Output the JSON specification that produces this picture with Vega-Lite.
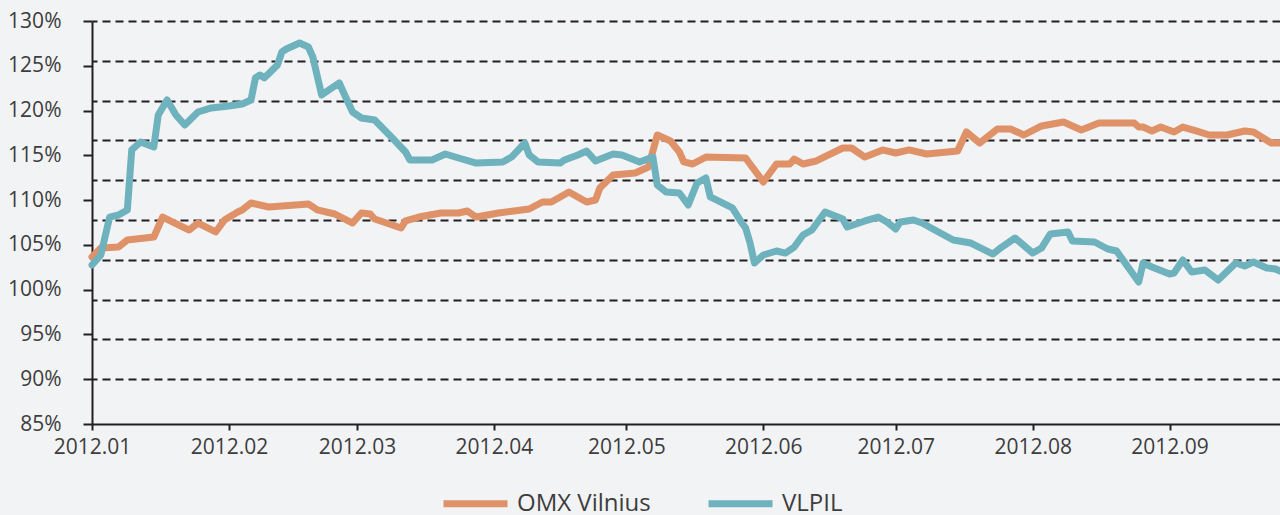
{
  "$schema": "https://vega.github.io/schema/vega-lite/v6.json",
  "width": 1188,
  "height": 403,
  "autosize": {"type": "none"},
  "padding": {"left": 92, "top": 21, "right": 0, "bottom": 91},
  "background": "#f2f3f5",
  "config": {
    "view": {"stroke": null},
    "font": "Open Sans",
    "axis": {"labelFont": "Open Sans", "labelColor": "#3d3d3d", "domainColor": "#231f20", "tickColor": "#231f20"}
  },
  "datasets": {
    "series": [
      {"date": "2012-01-01", "series": "OMX Vilnius", "value": 103.65},
      {"date": "2012-01-03", "series": "OMX Vilnius", "value": 104.65},
      {"date": "2012-01-07", "series": "OMX Vilnius", "value": 104.76},
      {"date": "2012-01-09", "series": "OMX Vilnius", "value": 105.55},
      {"date": "2012-01-15", "series": "OMX Vilnius", "value": 105.88},
      {"date": "2012-01-17", "series": "OMX Vilnius", "value": 108.11},
      {"date": "2012-01-23", "series": "OMX Vilnius", "value": 106.66},
      {"date": "2012-01-25", "series": "OMX Vilnius", "value": 107.44},
      {"date": "2012-01-29", "series": "OMX Vilnius", "value": 106.44},
      {"date": "2012-01-31", "series": "OMX Vilnius", "value": 107.78},
      {"date": "2012-02-03", "series": "OMX Vilnius", "value": 108.67},
      {"date": "2012-02-04", "series": "OMX Vilnius", "value": 108.90},
      {"date": "2012-02-06", "series": "OMX Vilnius", "value": 109.68},
      {"date": "2012-02-10", "series": "OMX Vilnius", "value": 109.23},
      {"date": "2012-02-19", "series": "OMX Vilnius", "value": 109.57},
      {"date": "2012-02-21", "series": "OMX Vilnius", "value": 108.90},
      {"date": "2012-02-25", "series": "OMX Vilnius", "value": 108.45},
      {"date": "2012-02-29", "series": "OMX Vilnius", "value": 107.44},
      {"date": "2012-03-02", "series": "OMX Vilnius", "value": 108.56},
      {"date": "2012-03-04", "series": "OMX Vilnius", "value": 108.45},
      {"date": "2012-03-05", "series": "OMX Vilnius", "value": 107.89},
      {"date": "2012-03-07", "series": "OMX Vilnius", "value": 107.56},
      {"date": "2012-03-11", "series": "OMX Vilnius", "value": 106.89},
      {"date": "2012-03-12", "series": "OMX Vilnius", "value": 107.67},
      {"date": "2012-03-15", "series": "OMX Vilnius", "value": 108.11},
      {"date": "2012-03-20", "series": "OMX Vilnius", "value": 108.56},
      {"date": "2012-03-24", "series": "OMX Vilnius", "value": 108.56},
      {"date": "2012-03-26", "series": "OMX Vilnius", "value": 108.78},
      {"date": "2012-03-28", "series": "OMX Vilnius", "value": 108.11},
      {"date": "2012-04-02", "series": "OMX Vilnius", "value": 108.56},
      {"date": "2012-04-09", "series": "OMX Vilnius", "value": 109.01},
      {"date": "2012-04-12", "series": "OMX Vilnius", "value": 109.79},
      {"date": "2012-04-14", "series": "OMX Vilnius", "value": 109.79},
      {"date": "2012-04-18", "series": "OMX Vilnius", "value": 110.91},
      {"date": "2012-04-22", "series": "OMX Vilnius", "value": 109.79},
      {"date": "2012-04-24", "series": "OMX Vilnius", "value": 110.01},
      {"date": "2012-04-25", "series": "OMX Vilnius", "value": 111.35},
      {"date": "2012-04-28", "series": "OMX Vilnius", "value": 112.80},
      {"date": "2012-05-03", "series": "OMX Vilnius", "value": 113.03},
      {"date": "2012-05-06", "series": "OMX Vilnius", "value": 113.70},
      {"date": "2012-05-08", "series": "OMX Vilnius", "value": 117.27},
      {"date": "2012-05-11", "series": "OMX Vilnius", "value": 116.60},
      {"date": "2012-05-13", "series": "OMX Vilnius", "value": 115.37},
      {"date": "2012-05-14", "series": "OMX Vilnius", "value": 114.26},
      {"date": "2012-05-16", "series": "OMX Vilnius", "value": 114.03},
      {"date": "2012-05-19", "series": "OMX Vilnius", "value": 114.81},
      {"date": "2012-05-28", "series": "OMX Vilnius", "value": 114.70},
      {"date": "2012-06-01", "series": "OMX Vilnius", "value": 112.02},
      {"date": "2012-06-04", "series": "OMX Vilnius", "value": 114.03},
      {"date": "2012-06-07", "series": "OMX Vilnius", "value": 114.03},
      {"date": "2012-06-08", "series": "OMX Vilnius", "value": 114.59},
      {"date": "2012-06-10", "series": "OMX Vilnius", "value": 114.03},
      {"date": "2012-06-13", "series": "OMX Vilnius", "value": 114.37},
      {"date": "2012-06-19", "series": "OMX Vilnius", "value": 115.82},
      {"date": "2012-06-21", "series": "OMX Vilnius", "value": 115.82},
      {"date": "2012-06-24", "series": "OMX Vilnius", "value": 114.81},
      {"date": "2012-06-28", "series": "OMX Vilnius", "value": 115.60},
      {"date": "2012-07-01", "series": "OMX Vilnius", "value": 115.26},
      {"date": "2012-07-04", "series": "OMX Vilnius", "value": 115.60},
      {"date": "2012-07-08", "series": "OMX Vilnius", "value": 115.15},
      {"date": "2012-07-15", "series": "OMX Vilnius", "value": 115.48},
      {"date": "2012-07-17", "series": "OMX Vilnius", "value": 117.61},
      {"date": "2012-07-20", "series": "OMX Vilnius", "value": 116.38},
      {"date": "2012-07-24", "series": "OMX Vilnius", "value": 117.94},
      {"date": "2012-07-27", "series": "OMX Vilnius", "value": 117.94},
      {"date": "2012-07-30", "series": "OMX Vilnius", "value": 117.27},
      {"date": "2012-08-03", "series": "OMX Vilnius", "value": 118.28},
      {"date": "2012-08-08", "series": "OMX Vilnius", "value": 118.72},
      {"date": "2012-08-12", "series": "OMX Vilnius", "value": 117.83},
      {"date": "2012-08-16", "series": "OMX Vilnius", "value": 118.61},
      {"date": "2012-08-24", "series": "OMX Vilnius", "value": 118.61},
      {"date": "2012-08-25", "series": "OMX Vilnius", "value": 118.16},
      {"date": "2012-08-26", "series": "OMX Vilnius", "value": 118.16},
      {"date": "2012-08-28", "series": "OMX Vilnius", "value": 117.72},
      {"date": "2012-08-30", "series": "OMX Vilnius", "value": 118.16},
      {"date": "2012-09-02", "series": "OMX Vilnius", "value": 117.61},
      {"date": "2012-09-04", "series": "OMX Vilnius", "value": 118.16},
      {"date": "2012-09-07", "series": "OMX Vilnius", "value": 117.72},
      {"date": "2012-09-10", "series": "OMX Vilnius", "value": 117.27},
      {"date": "2012-09-14", "series": "OMX Vilnius", "value": 117.27},
      {"date": "2012-09-18", "series": "OMX Vilnius", "value": 117.72},
      {"date": "2012-09-20", "series": "OMX Vilnius", "value": 117.61},
      {"date": "2012-09-24", "series": "OMX Vilnius", "value": 116.38},
      {"date": "2012-09-26", "series": "OMX Vilnius", "value": 116.38},
      {"date": "2012-01-01", "series": "VLPIL", "value": 102.75},
      {"date": "2012-01-03", "series": "VLPIL", "value": 103.87},
      {"date": "2012-01-05", "series": "VLPIL", "value": 108.11},
      {"date": "2012-01-07", "series": "VLPIL", "value": 108.34},
      {"date": "2012-01-09", "series": "VLPIL", "value": 108.90},
      {"date": "2012-01-10", "series": "VLPIL", "value": 115.60},
      {"date": "2012-01-12", "series": "VLPIL", "value": 116.49},
      {"date": "2012-01-15", "series": "VLPIL", "value": 115.93},
      {"date": "2012-01-16", "series": "VLPIL", "value": 119.50},
      {"date": "2012-01-18", "series": "VLPIL", "value": 121.18},
      {"date": "2012-01-20", "series": "VLPIL", "value": 119.50},
      {"date": "2012-01-22", "series": "VLPIL", "value": 118.39},
      {"date": "2012-01-25", "series": "VLPIL", "value": 119.84},
      {"date": "2012-01-28", "series": "VLPIL", "value": 120.29},
      {"date": "2012-02-01", "series": "VLPIL", "value": 120.51},
      {"date": "2012-02-04", "series": "VLPIL", "value": 120.73},
      {"date": "2012-02-06", "series": "VLPIL", "value": 121.18},
      {"date": "2012-02-07", "series": "VLPIL", "value": 123.64},
      {"date": "2012-02-08", "series": "VLPIL", "value": 123.97},
      {"date": "2012-02-09", "series": "VLPIL", "value": 123.64},
      {"date": "2012-02-12", "series": "VLPIL", "value": 125.09},
      {"date": "2012-02-13", "series": "VLPIL", "value": 126.54},
      {"date": "2012-02-14", "series": "VLPIL", "value": 126.87},
      {"date": "2012-02-17", "series": "VLPIL", "value": 127.54},
      {"date": "2012-02-19", "series": "VLPIL", "value": 127.10},
      {"date": "2012-02-20", "series": "VLPIL", "value": 125.98},
      {"date": "2012-02-22", "series": "VLPIL", "value": 121.74},
      {"date": "2012-02-26", "series": "VLPIL", "value": 123.08},
      {"date": "2012-02-27", "series": "VLPIL", "value": 121.96},
      {"date": "2012-02-29", "series": "VLPIL", "value": 119.84},
      {"date": "2012-03-02", "series": "VLPIL", "value": 119.17},
      {"date": "2012-03-05", "series": "VLPIL", "value": 118.95},
      {"date": "2012-03-09", "series": "VLPIL", "value": 116.94},
      {"date": "2012-03-12", "series": "VLPIL", "value": 115.37},
      {"date": "2012-03-13", "series": "VLPIL", "value": 114.48},
      {"date": "2012-03-18", "series": "VLPIL", "value": 114.48},
      {"date": "2012-03-21", "series": "VLPIL", "value": 115.15},
      {"date": "2012-03-24", "series": "VLPIL", "value": 114.70},
      {"date": "2012-03-28", "series": "VLPIL", "value": 114.14},
      {"date": "2012-04-03", "series": "VLPIL", "value": 114.26},
      {"date": "2012-04-05", "series": "VLPIL", "value": 114.81},
      {"date": "2012-04-08", "series": "VLPIL", "value": 116.38},
      {"date": "2012-04-09", "series": "VLPIL", "value": 115.04},
      {"date": "2012-04-11", "series": "VLPIL", "value": 114.26},
      {"date": "2012-04-16", "series": "VLPIL", "value": 114.14},
      {"date": "2012-04-17", "series": "VLPIL", "value": 114.48},
      {"date": "2012-04-20", "series": "VLPIL", "value": 115.04},
      {"date": "2012-04-22", "series": "VLPIL", "value": 115.48},
      {"date": "2012-04-24", "series": "VLPIL", "value": 114.37},
      {"date": "2012-04-28", "series": "VLPIL", "value": 115.15},
      {"date": "2012-04-30", "series": "VLPIL", "value": 115.04},
      {"date": "2012-05-04", "series": "VLPIL", "value": 114.26},
      {"date": "2012-05-07", "series": "VLPIL", "value": 114.81},
      {"date": "2012-05-08", "series": "VLPIL", "value": 111.69},
      {"date": "2012-05-10", "series": "VLPIL", "value": 110.91},
      {"date": "2012-05-13", "series": "VLPIL", "value": 110.79},
      {"date": "2012-05-15", "series": "VLPIL", "value": 109.45},
      {"date": "2012-05-17", "series": "VLPIL", "value": 111.91},
      {"date": "2012-05-19", "series": "VLPIL", "value": 112.47},
      {"date": "2012-05-20", "series": "VLPIL", "value": 110.35},
      {"date": "2012-05-25", "series": "VLPIL", "value": 109.12},
      {"date": "2012-05-27", "series": "VLPIL", "value": 107.56},
      {"date": "2012-05-28", "series": "VLPIL", "value": 106.89},
      {"date": "2012-05-29", "series": "VLPIL", "value": 105.21},
      {"date": "2012-05-30", "series": "VLPIL", "value": 102.98},
      {"date": "2012-06-01", "series": "VLPIL", "value": 103.87},
      {"date": "2012-06-04", "series": "VLPIL", "value": 104.32},
      {"date": "2012-06-06", "series": "VLPIL", "value": 104.09},
      {"date": "2012-06-08", "series": "VLPIL", "value": 104.76},
      {"date": "2012-06-10", "series": "VLPIL", "value": 106.10},
      {"date": "2012-06-12", "series": "VLPIL", "value": 106.66},
      {"date": "2012-06-15", "series": "VLPIL", "value": 108.67},
      {"date": "2012-06-19", "series": "VLPIL", "value": 107.89},
      {"date": "2012-06-20", "series": "VLPIL", "value": 107.00},
      {"date": "2012-06-24", "series": "VLPIL", "value": 107.67},
      {"date": "2012-06-27", "series": "VLPIL", "value": 108.11},
      {"date": "2012-06-29", "series": "VLPIL", "value": 107.56},
      {"date": "2012-07-01", "series": "VLPIL", "value": 106.78},
      {"date": "2012-07-02", "series": "VLPIL", "value": 107.56},
      {"date": "2012-07-05", "series": "VLPIL", "value": 107.78},
      {"date": "2012-07-07", "series": "VLPIL", "value": 107.44},
      {"date": "2012-07-09", "series": "VLPIL", "value": 106.89},
      {"date": "2012-07-14", "series": "VLPIL", "value": 105.55},
      {"date": "2012-07-18", "series": "VLPIL", "value": 105.21},
      {"date": "2012-07-23", "series": "VLPIL", "value": 103.98},
      {"date": "2012-07-25", "series": "VLPIL", "value": 104.76},
      {"date": "2012-07-28", "series": "VLPIL", "value": 105.77},
      {"date": "2012-08-01", "series": "VLPIL", "value": 104.09},
      {"date": "2012-08-03", "series": "VLPIL", "value": 104.65},
      {"date": "2012-08-05", "series": "VLPIL", "value": 106.22},
      {"date": "2012-08-09", "series": "VLPIL", "value": 106.44},
      {"date": "2012-08-10", "series": "VLPIL", "value": 105.43},
      {"date": "2012-08-15", "series": "VLPIL", "value": 105.32},
      {"date": "2012-08-18", "series": "VLPIL", "value": 104.54},
      {"date": "2012-08-20", "series": "VLPIL", "value": 104.32},
      {"date": "2012-08-25", "series": "VLPIL", "value": 100.86},
      {"date": "2012-08-26", "series": "VLPIL", "value": 102.98},
      {"date": "2012-08-28", "series": "VLPIL", "value": 102.53},
      {"date": "2012-09-01", "series": "VLPIL", "value": 101.75},
      {"date": "2012-09-02", "series": "VLPIL", "value": 101.86},
      {"date": "2012-09-04", "series": "VLPIL", "value": 103.31},
      {"date": "2012-09-06", "series": "VLPIL", "value": 101.97},
      {"date": "2012-09-09", "series": "VLPIL", "value": 102.20},
      {"date": "2012-09-12", "series": "VLPIL", "value": 101.08},
      {"date": "2012-09-16", "series": "VLPIL", "value": 102.98},
      {"date": "2012-09-18", "series": "VLPIL", "value": 102.64},
      {"date": "2012-09-20", "series": "VLPIL", "value": 103.09},
      {"date": "2012-09-23", "series": "VLPIL", "value": 102.42},
      {"date": "2012-09-25", "series": "VLPIL", "value": 102.31},
      {"date": "2012-09-26", "series": "VLPIL", "value": 102.08}
    ]
  },
  "layer": [
    {
      "data": {"values": [{}]},
      "mark": {"type": "rule", "opacity": 0},
      "encoding": {
        "y": {
          "datum": 5,
          "type": "quantitative",
          "scale": {"domain": [-0.126, 10], "nice": false, "zero": false},
          "axis": {
            "orient": "right",
            "values": [1, 2, 3, 4, 5, 6, 7, 8, 9, 10],
            "grid": true,
            "gridDash": [8, 5],
            "gridColor": "#231f20",
            "gridWidth": 1.8,
            "labels": false,
            "ticks": false,
            "domain": false,
            "title": null
          }
        }
      }
    },
    {
      "data": {"name": "series"},
      "mark": {"type": "line", "strokeWidth": 7, "strokeJoin": "round", "strokeCap": "round"},
      "encoding": {
        "x": {
          "field": "date",
          "type": "temporal",
          "scale": {
            "type": "utc",
            "domain": [
              {"year": 2012, "month": 1, "date": 1, "utc": true},
              {"year": 2012, "month": 9, "date": 26, "utc": true}
            ]
          },
          "axis": {
            "values": [
              {"year": 2012, "month": 1, "date": 1, "utc": true},
              {"year": 2012, "month": 2, "date": 1, "utc": true},
              {"year": 2012, "month": 3, "date": 1, "utc": true},
              {"year": 2012, "month": 4, "date": 1, "utc": true},
              {"year": 2012, "month": 5, "date": 1, "utc": true},
              {"year": 2012, "month": 6, "date": 1, "utc": true},
              {"year": 2012, "month": 7, "date": 1, "utc": true},
              {"year": 2012, "month": 8, "date": 1, "utc": true},
              {"year": 2012, "month": 9, "date": 1, "utc": true}
            ],
            "labelExpr": "utcFormat(datum.value, '%Y.%m')",
            "title": null,
            "grid": false,
            "domainWidth": 2,
            "tickWidth": 2,
            "tickSize": 6,
            "labelFontSize": 21,
            "labelPadding": 6,
            "labelFlush": false,
            "labelOverlap": false
          }
        },
        "y": {
          "field": "value",
          "type": "quantitative",
          "scale": {"domain": [85, 130], "nice": false, "zero": false},
          "axis": {
            "values": [85, 90, 95, 100, 105, 110, 115, 120, 125, 130],
            "labelExpr": "datum.value + '%'",
            "title": null,
            "grid": false,
            "domainWidth": 2,
            "tickWidth": 2,
            "tickSize": 9,
            "labelFontSize": 21,
            "labelPadding": 22,
            "labelOverlap": false
          }
        },
        "color": {
          "field": "series",
          "type": "nominal",
          "scale": {"domain": ["OMX Vilnius", "VLPIL"], "range": ["#df9168", "#6db2bc"]},
          "legend": {
            "orient": "none",
            "legendX": 348,
            "legendY": 447,
            "direction": "horizontal",
            "title": null,
            "padding": 0,
            "symbolType": "stroke",
            "symbolSize": 4096,
            "symbolStrokeWidth": 7,
            "labelFont": "Open Sans",
            "labelFontSize": 24,
            "labelColor": "#3d3d3d",
            "labelOffset": 6,
            "columnPadding": 43
          }
        }
      }
    }
  ],
  "resolve": {"scale": {"y": "independent"}, "axis": {"y": "independent"}}
}
